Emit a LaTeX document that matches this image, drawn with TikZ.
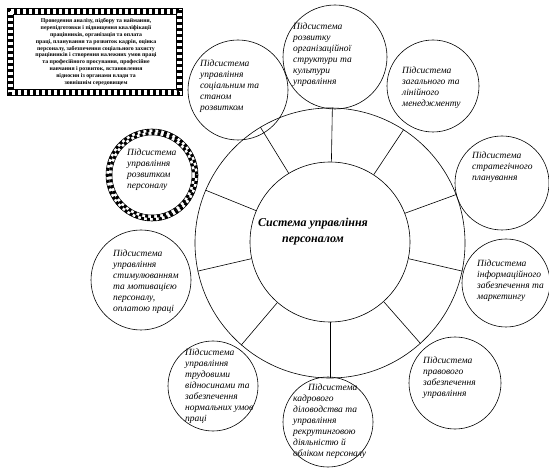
\documentclass[tikz,border=0pt]{standalone}
\usepackage{fontspec}
\setmainfont{Liberation Serif}
\begin{document}
\begin{tikzpicture}[x=1pt,y=-1pt,
  sub/.style={circle, draw, line width=0.6pt, inner sep=0pt, minimum size=#1},
  subtext/.style={anchor=north west, inner sep=0pt, align=left,
    font=\itshape\fontsize{9.5}{11}\selectfont},
  spoke/.style={line width=0.6pt},
  checker/.style={line width=3pt, dash pattern=on 3pt off 3pt}]
  \useasboundingbox (0,0) rectangle (549,470);

  % Task box with checkered frame
  \draw[line width=0.5pt] (7,8) rectangle (182,95);
  \draw[checker] (8.5,9.5) rectangle (180.5,93.5);
  \draw[checker, dash phase=3pt] (11.5,12.5) rectangle (177.5,90.5);
  \draw[line width=0.5pt] (13,14) rectangle (176,89);
  \node[align=center, inner sep=0pt, font=\bfseries\fontsize{5.8}{6.8}\selectfont] (task) at (96,52)
    {Проведення аналізу, підбору та наймання,\\
     перепідготовки і підвищення кваліфікації\\
     працівників, організація та оплата\\
     праці, планування та розвиток кадрів, оцінка\\
     персоналу, забезпечення соціального захисту\\
     працівників і створення належних умов праці\\
     та професійного просування, професійне\\
     навчання і розвиток, встановлення\\
     відносин із органами влади та\\
     зовнішнім середовищем};

  % Central system and outer ring
  \node[sub=270pt] (ring) at (330,243) {};
  \node[sub=160pt] (sys) at (330,242) {};
  \node[align=center, font=\bfseries\itshape\fontsize{12}{16}\selectfont] (systext) at (313,232)
    {Система управління\\персоналом};

  % Spokes
  \foreach \a in {121,89,57,21,-12,-48,-90,-131,-168,157}
    \draw[spoke] (sys.\a) -- (ring.\a);

  % Subsystems
  \node[sub=100pt] (c2) at (238,90) {};
  \node[subtext] (t2) at (200,59.5) {Підсистема\\управління\\соціальним та\\станом\\розвитком};

  \node[sub=104pt] (c3) at (335,57) {};
  \node[subtext] (t3) at (293,23) {Підсистема\\розвитку\\організаційної\\структури та\\культури\\управління};

  \node[sub=92pt] (c4) at (433,86) {};
  \node[subtext] (t4) at (402,66.5) {Підсистема\\загального та\\лінійного\\менеджменту};

  \node[sub=94pt] (c5) at (502,183) {};
  \node[subtext] (t5) at (472,151.5) {Підсистема\\стратегічного\\планування};

  \node[sub=88pt] (c6) at (506,283) {};
  \node[subtext] (t6) at (477,259.5) {Підсистема\\інформаційного\\забезпечення та\\маркетингу};

  \node[sub=92pt] (c7) at (455,383) {};
  \node[subtext] (t7) at (423,356.5) {Підсистема\\правового\\забезпечення\\управління};

  \node[sub=90pt] (c8) at (328,422) {};
  \node[subtext] (t8) at (293,383.5) {\hspace*{15pt}Підсистема\\кадрового\\діловодства та\\управління\\рекрутинговою\\діяльністю й\\обліком персоналу};

  \node[sub=90pt] (c9) at (213,386) {};
  \node[subtext] (t9) at (185,348.5) {Підсистема\\управління\\трудовими\\відносинами та\\забезпечення\\нормальних умов\\праці};

  \node[sub=100pt] (c10) at (141,280) {};
  \node[subtext] (t10) at (113,249.5) {Підсистема\\управління\\стимулюванням\\та мотивацією\\персоналу,\\оплатою праці};

  \node[sub=92pt] (c11) at (152,175) {};
  \draw[checker] (c11.center) circle (44.5);
  \draw[checker, dash phase=3pt] (c11.center) circle (41.5);
  \draw[line width=0.5pt] (c11.center) circle (40);
  \node[subtext] (t11) at (127,148.5) {Підсистема\\управління\\розвитком\\персоналу};
\end{tikzpicture}
\end{document}
